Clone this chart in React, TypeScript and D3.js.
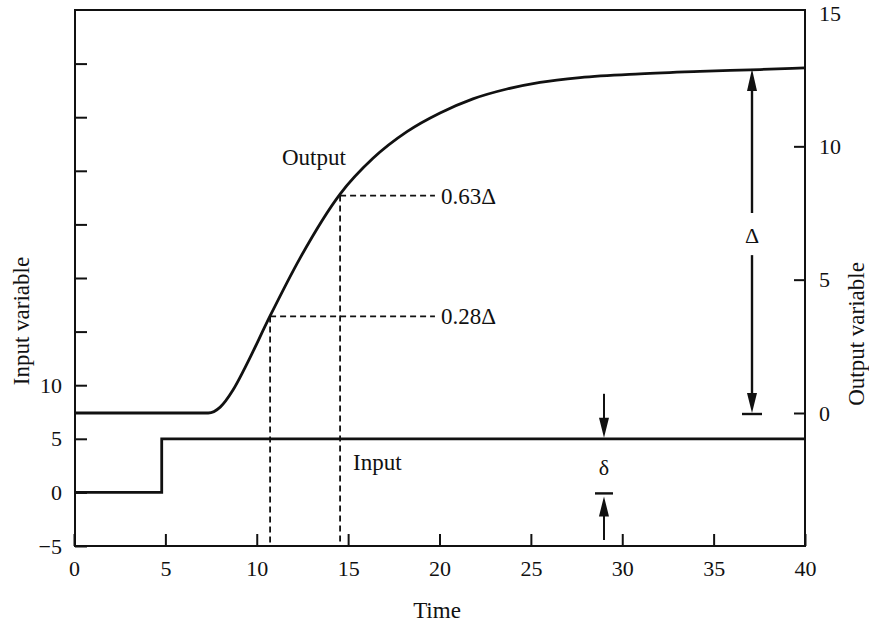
import React, { useEffect, useRef } from 'react';
import * as d3 from 'd3';

// output response (time, output variable)
const outputTime = [0, 7.35, 8.0, 8.7, 9.36, 10.73, 12.37, 14.56, 16.36, 18.22, 20.03, 21.83, 23.69, 25.5, 27.69, 30.97, 34.25, 37.54, 40];
const outputValue = [0, 0, 0.22, 0.86, 1.7, 3.64, 5.81, 8.21, 9.55, 10.55, 11.25, 11.78, 12.15, 12.4, 12.58, 12.72, 12.81, 12.88, 12.94];

// step input (time, input variable)
const inputTime = [0, 4.8, 4.8, 40];
const inputValue = [0, 0, 5, 5];

const xTicks = [0, 5, 10, 15, 20, 25, 30, 35, 40];
const leftTicks = [-5, 0, 5, 10, 15, 20, 25, 30, 35, 40];
const leftLabels = [-5, 0, 5, 10];
const rightTicks = [0, 5, 10];
const rightLabels = [0, 5, 10, 15];

const delta = 12.94;
const markers = [
  { t: 10.73, frac: 0.28, label: '0.28Δ' },
  { t: 14.56, frac: 0.63, label: '0.63Δ' },
];

const FONT = '"Liberation Serif", "Times New Roman", serif';

const App = () => {
  const svgRef = useRef<SVGSVGElement>(null);

  useEffect(() => {
    const width = 869;
    const height = 625;
    const left = 75;
    const right = 805;
    const top = 10;
    const bottom = 546;

    const svg = d3.select(svgRef.current).attr('width', width).attr('height', height);
    svg.selectAll('*').remove();

    const x = d3.scaleLinear().domain([0, 40]).range([left - 1, right]);
    const yIn = d3.scaleLinear().domain([-5, 45]).range([bottom, top]);
    const yOut = d3.scaleLinear().domain([0, 15]).range([413, 13]);

    const g = svg.append('g').attr('font-family', FONT).attr('fill', '#111');

    // frame
    g.append('rect')
      .attr('x', left)
      .attr('y', top)
      .attr('width', right - left)
      .attr('height', bottom - top)
      .attr('fill', 'none')
      .attr('stroke', '#111')
      .attr('stroke-width', 2);

    // bottom axis
    const xAxis = g.append('g').attr('transform', `translate(0, ${bottom})`)
      .call(d3.axisBottom(x).tickValues(xTicks).tickSizeInner(-12).tickSizeOuter(0).tickPadding(14));
    xAxis.select('.domain').remove();
    xAxis.selectAll('line').attr('stroke', '#111').attr('stroke-width', 2);
    xAxis.selectAll('text').attr('font-family', FONT).attr('font-size', 22).attr('fill', '#111');

    // left axis
    const lAxis = g.append('g').attr('transform', `translate(${left}, 0)`)
      .call(
        d3.axisLeft(yIn).tickValues(leftTicks).tickSizeInner(-12).tickSizeOuter(0).tickPadding(13)
          .tickFormat((d) => (leftLabels.includes(+d) ? (+d < 0 ? '−' + Math.abs(+d) : String(d)) : ''))
      );
    lAxis.select('.domain').remove();
    lAxis.selectAll('line').attr('stroke', '#111').attr('stroke-width', 2);
    lAxis.selectAll('text').attr('font-family', FONT).attr('font-size', 22).attr('fill', '#111');

    // right axis
    const rAxis = g.append('g').attr('transform', `translate(${right}, 0)`)
      .call(d3.axisRight(yOut).tickValues(rightLabels).tickSizeInner(-11).tickSizeOuter(0).tickPadding(14));
    rAxis.select('.domain').remove();
    rAxis.selectAll('line').attr('stroke', '#111').attr('stroke-width', 2)
      .attr('display', (d) => (rightTicks.includes(d as number) ? null : 'none'));
    rAxis.selectAll('text').attr('font-family', FONT).attr('font-size', 22).attr('fill', '#111');

    // axis titles
    g.append('text')
      .attr('x', 437)
      .attr('y', 618)
      .attr('text-anchor', 'middle')
      .attr('font-size', 23)
      .text('Time');
    g.append('text')
      .attr('transform', `translate(29, 321) rotate(-90)`)
      .attr('text-anchor', 'middle')
      .attr('font-size', 23)
      .text('Input variable');
    g.append('text')
      .attr('transform', `translate(864, 334) rotate(-90)`)
      .attr('text-anchor', 'middle')
      .attr('font-size', 23)
      .text('Output variable');

    // markers (dashed)
    markers.forEach((m) => {
      const yy = yOut(m.frac * delta);
      const xx = x(m.t);
      g.append('line')
        .attr('x1', xx).attr('x2', xx).attr('y1', yy).attr('y2', bottom)
        .attr('stroke', '#111').attr('stroke-width', 1.8).attr('stroke-dasharray', '6,4');
      g.append('line')
        .attr('x1', xx).attr('x2', x(19.75)).attr('y1', yy).attr('y2', yy)
        .attr('stroke', '#111').attr('stroke-width', 1.8).attr('stroke-dasharray', '6,4');
      g.append('text')
        .attr('x', x(19.75) + 6)
        .attr('y', yy + 8)
        .attr('font-size', 23)
        .text(m.label);
    });

    // lines
    const outData = outputTime.map((t, i) => [t, outputValue[i]] as [number, number]);
    const inData = inputTime.map((t, i) => [t, inputValue[i]] as [number, number]);

    g.append('path')
      .attr('d', d3.line<[number, number]>().x((d) => x(d[0])).y((d) => yOut(d[1])).curve(d3.curveMonotoneX)(outData))
      .attr('fill', 'none').attr('stroke', '#111').attr('stroke-width', 2.8);
    g.append('path')
      .attr('d', d3.line<[number, number]>().x((d) => x(d[0])).y((d) => yIn(d[1]))(inData))
      .attr('fill', 'none').attr('stroke', '#111').attr('stroke-width', 2.8);

    g.append('text').attr('x', x(11.38)).attr('y', yOut(9.3)).attr('font-size', 23).text('Output');
    g.append('text').attr('x', x(15.27)).attr('y', yIn(2.6) + 5).attr('font-size', 23).text('Input');

    // arrow helpers
    const head = (cx: number, tipY: number, dir: number, L = 20, W = 5) => {
      // dir = -1 points up, 1 points down
      g.append('path')
        .attr('d', `M${cx},${tipY} L${cx - W},${tipY - dir * L} L${cx + W},${tipY - dir * L} Z`)
        .attr('fill', '#111');
    };
    const vline = (cx: number, y1: number, y2: number, w = 2.4) =>
      g.append('line').attr('x1', cx).attr('x2', cx).attr('y1', y1).attr('y2', y2).attr('stroke', '#111').attr('stroke-width', w);
    const bar = (cx: number, yy: number, hw: number) =>
      g.append('line').attr('x1', cx - hw).attr('x2', cx + hw).attr('y1', yy).attr('y2', yy).attr('stroke', '#111').attr('stroke-width', 2.4);

    // Δ arrow
    const dx = x(37.1);
    const yTop = yOut(delta) + 1;
    const yBot = yOut(0);
    vline(dx, yTop + 12, yOut(7.5));
    vline(dx, yOut(5.92), yBot - 12);
    head(dx, yTop, -1, 22);
    head(dx, yBot, 1, 20);
    bar(dx, yBot + 1, 10);
    g.append('text').attr('x', dx).attr('y', yOut(6.37)).attr('text-anchor', 'middle').attr('font-size', 22).text('Δ');

    // δ arrows
    const sx = x(29.0);
    const yFive = yIn(5);
    const yZero = yIn(0);
    vline(sx, yFive - 45, yFive - 10, 2);
    head(sx, yFive - 1, 1, 20);
    vline(sx, yZero + 12, bottom - 6, 2);
    head(sx, yZero + 4, -1, 20);
    bar(sx, yZero + 1, 9);
    g.append('text').attr('x', sx).attr('y', (yFive + yZero) / 2 + 9).attr('text-anchor', 'middle').attr('font-size', 22).text('δ');
  }, []);

  return (
    <div className="chart">
      <svg ref={svgRef} style={{ position: 'absolute', left: 0, top: 0, background: '#fff' }}></svg>
    </div>
  );
};

export default App;
